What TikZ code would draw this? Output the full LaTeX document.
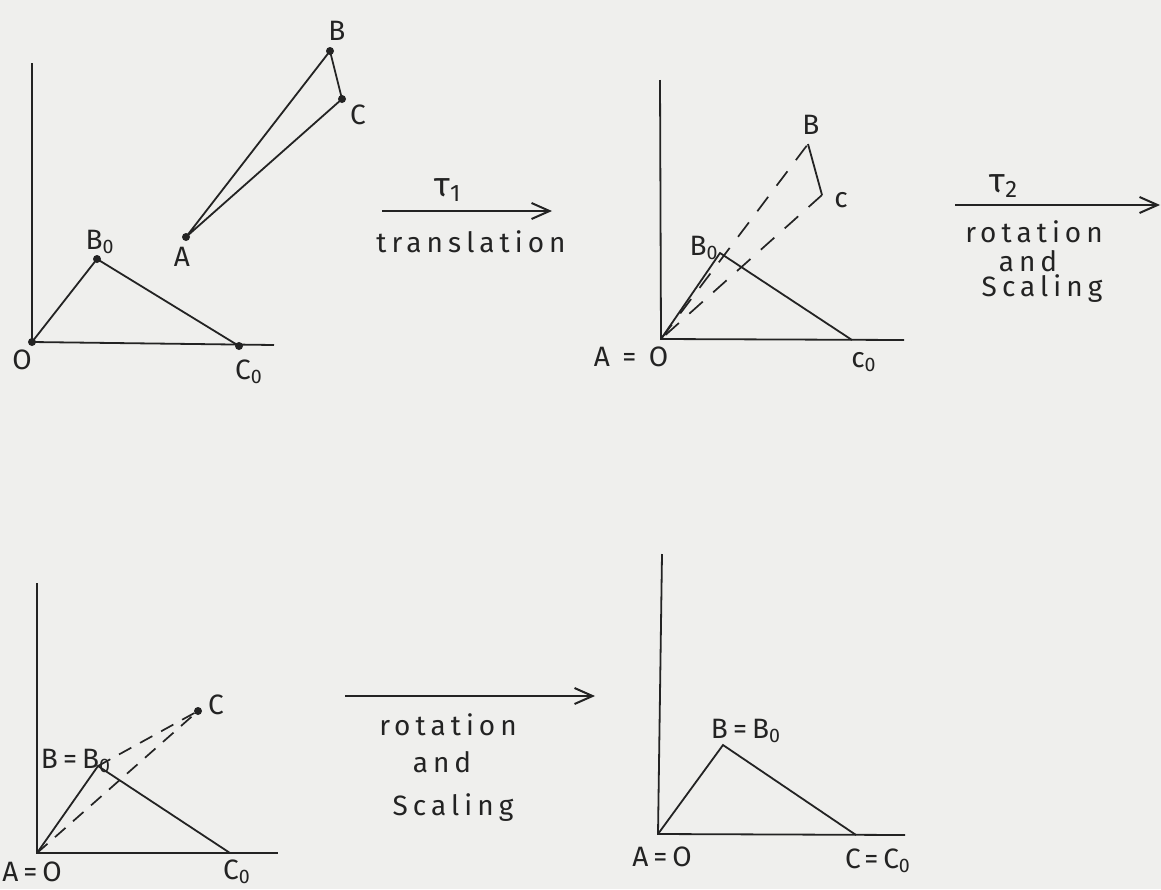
\documentclass[tikz,border=0pt]{standalone}
\usepackage{fontspec}
\setmainfont{Fira Sans}[LetterSpace=18]
\usetikzlibrary{arrows.meta}
\definecolor{paper}{RGB}{239,239,237}
\definecolor{ink}{RGB}{35,35,35}
\tikzset{
  axis/.style={draw=ink, line width=0.9pt},
  edge/.style={draw=ink, line width=0.9pt},
  dashedge/.style={draw=ink, line width=0.85pt, dash pattern=on 9pt off 7pt},
  dashedgesmall/.style={draw=ink, line width=0.85pt, dash pattern=on 7pt off 5pt},
  maparrow/.style={draw=ink, line width=1pt, -{Straight Barb[length=9pt,width=8pt,line width=1pt]}},
  lbl/.style={text=ink, font=\fontsize{14}{15}\selectfont, inner sep=0pt},
  taulbl/.style={text=ink, font=\fontsize{17}{18}\selectfont, inner sep=0pt},
  dotmark/.style={circle, fill=ink, inner sep=0pt, minimum size=4pt},
}
\begin{document}
\begin{tikzpicture}[x=0.5pt,y=-0.5pt]
\fill[paper] (0,0) rectangle (1161,889);
\useasboundingbox (0,0) rectangle (1161,889);

% ---------- Panel 1 ----------
\coordinate (Ya) at (32,63);
\coordinate (Oa) at (32,342);
\coordinate (Xa) at (274,345);
\coordinate (B0a) at (97,259);
\coordinate (C0a) at (239,346);
\coordinate (Aa) at (186,237);
\coordinate (Ba) at (330,51);
\coordinate (Ca) at (342,99);
\draw[axis] (Ya) -- (Oa) -- (Xa);
\draw[edge] (Oa) -- (B0a) -- (C0a);
\draw[edge] (Aa) -- (Ba) -- (Ca) -- cycle;
\foreach \p in {Oa,B0a,C0a,Aa,Ba,Ca} \node[dotmark] at (\p) {};
\node[lbl] (lOa) at (22,360) {O};
\node[lbl] (lB0a) at (100,242) {B\textsubscript{0}};
\node[lbl] (lC0a) at (249,372) {C\textsubscript{0}};
\node[lbl] (lAa) at (182,257) {A};
\node[lbl] (lBa) at (337,31) {B};
\node[lbl] (lCa) at (358,115) {C};

% ---------- Arrow 1 ----------
\coordinate (T1s) at (382,211);
\coordinate (T1e) at (552,211);
\draw[maparrow] (T1s) -- (T1e);
\node[taulbl] (tau1) at (448,190) {τ\textsubscript{1}};
\node[lbl] (trans) at (471,242) {translation};

% ---------- Panel 2 ----------
\coordinate (Yb) at (660,80);
\coordinate (Ob) at (661,339);
\coordinate (Xb) at (904,340);
\coordinate (B0b) at (720,253);
\coordinate (C0b) at (852,340);
\coordinate (Bb) at (808,144);
\coordinate (Cb) at (822,195);
\draw[axis] (Yb) -- (Ob) -- (Xb);
\draw[edge] (Ob) -- (B0b) -- (C0b);
\draw[dashedge] (Ob) -- (Bb);
\draw[edge] (Bb) -- (Cb);
\draw[dashedge] (Cb) -- (Ob);
\node[lbl] (lOb) at (631,357) {A = O};
\node[lbl] (lB0b) at (704,248) {B\textsubscript{0}};
\node[lbl] (lC0b) at (864,362) {c\textsubscript{0}};
\node[lbl] (lBb) at (811,125) {B};
\node[lbl] (lCb) at (841,200) {c};

% ---------- Arrow 2 ----------
\coordinate (T2s) at (955,205);
\coordinate (T2e) at (1160,205);
\draw[maparrow] (T2s) -- (T2e);
\node[taulbl] (tau2) at (1004,186) {τ\textsubscript{2}};
\node[lbl] (rot2) at (1034,232) {rotation};
\node[lbl] (and2) at (1028,261) {and};
\node[lbl] (scl2) at (1042,289) {Scaling};

% ---------- Panel 3 ----------
\coordinate (Yc) at (37,583);
\coordinate (Oc) at (37,853);
\coordinate (Xc) at (278,853);
\coordinate (B0c) at (98,766);
\coordinate (C0c) at (230,853);
\coordinate (Cc) at (198,711);
\draw[axis] (Yc) -- (Oc) -- (Xc);
\draw[edge] (Oc) -- (B0c) -- (C0c);
\draw[dashedgesmall] (B0c) -- (Cc);
\draw[dashedgesmall] (Oc) -- (Cc);
\node[dotmark] at (Cc) {};
\node[lbl] (lOc) at (32,872) {A=O};
\node[lbl] (lB0c) at (76,761) {B=B\textsubscript{0}};
\node[lbl] (lCc) at (216,705) {C};
\node[lbl] (lC0c) at (237,872) {C\textsubscript{0}};

% ---------- Arrow 3 ----------
\coordinate (T3s) at (345,696);
\coordinate (T3e) at (595,696);
\draw[maparrow] (T3s) -- (T3e);
\node[lbl] (rot3) at (448,725) {rotation};
\node[lbl] (and3) at (442,762) {and};
\node[lbl] (scl3) at (453,808) {Scaling};

% ---------- Panel 4 ----------
\coordinate (Yd) at (662,554);
\coordinate (Od) at (658,834);
\coordinate (Xd) at (905,835);
\coordinate (Bd) at (723,745);
\coordinate (Cd) at (856,835);
\draw[axis] (Yd) -- (Od) -- (Xd);
\draw[edge] (Od) -- (Bd) -- (Cd);
\node[lbl] (lOd) at (662,857) {A=O};
\node[lbl] (lBd) at (746,731) {B=B\textsubscript{0}};
\node[lbl] (lCd) at (878,861) {C=C\textsubscript{0}};
\end{tikzpicture}
\end{document}
